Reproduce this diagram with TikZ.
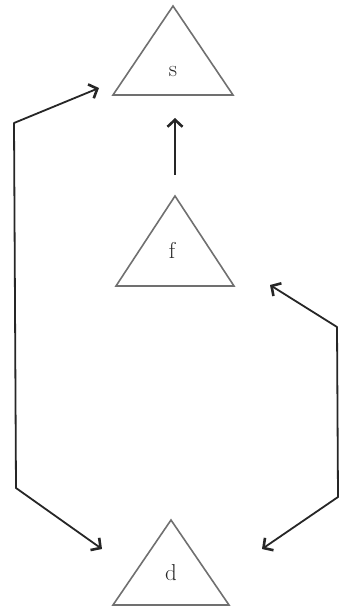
\documentclass[tikz,border=0pt]{standalone}
\usepackage{tikz}
\usetikzlibrary{arrows.meta, calc}
\definecolor{triGray}{HTML}{707070}
\definecolor{arrDark}{HTML}{262626}

\begin{document}
\begin{tikzpicture}[x=1pt, y=-1pt,
    >={Straight Barb[length=7pt, width=15pt, line width=2.6pt]},
    lbl/.style={font=\fontsize{23}{27}\selectfont, inner sep=0pt, anchor=base, text=black!85},
    tri/.style={draw=triGray, line width=1.6pt, line join=miter},
    conn/.style={draw=arrDark, line width=1.8pt, line join=round}]
  \useasboundingbox (0,0) rectangle (339,612);
  % triangles: apex x, apex y, height, half base
  \foreach \n/\x/\y/\h/\w in {s/173/6/89/60, f/175/196/90/59, d/171/520/85/58} {
    \coordinate (\n-top) at (\x,\y);
    \coordinate (\n-base) at (\x,\y+\h);
    \draw[tri] (\n-top) -- ++(\w,\h) -- ++(-2*\w,0) -- cycle;
  }
  \node[lbl] (s) at (173,77) {s};
  \node[lbl] (f) at (172,258) {f};
  \node[lbl] (d) at (171,580) {d};
  \coordinate (s-in) at (99,88);
  \coordinate (f-in) at (270,285);
  \coordinate (d-left-in) at (102,549);
  \coordinate (d-right-in) at (262,549);
  \coordinate (l1) at (14,123);
  \coordinate (l2) at (16,488);
  \coordinate (r1) at (337,327);
  \coordinate (r2) at (338,497);
  \draw[conn, ->] ([yshift=21pt]f-top) -- ([yshift=-23pt]f-top |- s-base);
  \draw[conn, <->] (s-in) -- (l1) -- (l2) -- (d-left-in);
  \draw[conn, <->] (f-in) -- (r1) -- (r2) -- (d-right-in);
\end{tikzpicture}
\end{document}
